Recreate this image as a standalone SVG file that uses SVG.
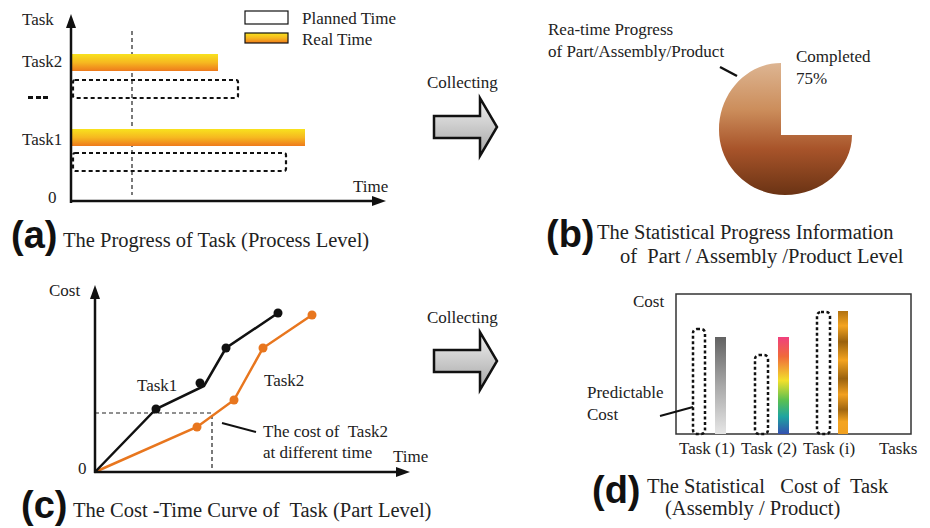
<svg xmlns="http://www.w3.org/2000/svg" width="930" height="528" viewBox="0 0 930 528">
<defs>
<style>
text{font-family:'Liberation Serif','Tinos','Times New Roman','DejaVu Serif',serif;font-size:17px;fill:#222}
.cap{font-size:20.5px}
.lab{font-family:'Liberation Sans',Arimo,Arial,'DejaVu Sans',sans-serif;font-weight:bold;font-size:38px;fill:#111}
.axis{stroke:#111;stroke-width:2.5;fill:none}
.dash{fill:none;stroke:#111;stroke-width:2.2;stroke-dasharray:4 3}
.dashd{fill:none;stroke:#111;stroke-width:2.5;stroke-dasharray:3 2.5}
.thin{stroke:#222;stroke-width:1.2;stroke-dasharray:4 3;fill:none}
.bk{stroke:#111;stroke-width:2.5;fill:none}
.or{stroke:#e8761e;stroke-width:2.5;fill:none}
.big{fill:url(#gray);stroke:#111;stroke-width:2.5;stroke-linejoin:miter}
</style>
<marker id="ah" markerUnits="userSpaceOnUse" markerWidth="14" markerHeight="10" refX="2" refY="5" orient="auto"><path d="M0,0 L14,5 L0,10 z" fill="#111"/></marker>
<linearGradient id="yo" x1="0" y1="0" x2="0" y2="1"><stop offset="0" stop-color="#f8e21e"/><stop offset="0.5" stop-color="#f6b820"/><stop offset="1" stop-color="#ee7a1c"/></linearGradient>
<linearGradient id="gray" x1="0" y1="0" x2="0" y2="1"><stop offset="0" stop-color="#f2f2f2"/><stop offset="1" stop-color="#a4a4a4"/></linearGradient>
<linearGradient id="pie" x1="0" y1="0" x2="0" y2="1"><stop offset="0" stop-color="#ddb592"/><stop offset="0.35" stop-color="#cc8e5c"/><stop offset="0.65" stop-color="#a8542a"/><stop offset="1" stop-color="#6a3314"/></linearGradient>
<linearGradient id="g1" x1="0" y1="0" x2="0" y2="1"><stop offset="0" stop-color="#626262"/><stop offset="0.5" stop-color="#a8a8a8"/><stop offset="1" stop-color="#e6e6e6"/></linearGradient>
<linearGradient id="g2" x1="0" y1="0" x2="0" y2="1"><stop offset="0" stop-color="#f0407e"/><stop offset="0.2" stop-color="#f06a3a"/><stop offset="0.45" stop-color="#f2e02c"/><stop offset="0.65" stop-color="#5cc050"/><stop offset="0.82" stop-color="#1ea4a0"/><stop offset="1" stop-color="#3450b0"/></linearGradient>
<linearGradient id="g3" x1="0" y1="0" x2="0" y2="1"><stop offset="0" stop-color="#b07212"/><stop offset="0.12" stop-color="#f4a420"/><stop offset="0.25" stop-color="#9a620e"/><stop offset="0.4" stop-color="#f4a420"/><stop offset="0.55" stop-color="#9a620e"/><stop offset="0.68" stop-color="#f2a020"/><stop offset="0.8" stop-color="#a06610"/><stop offset="0.9" stop-color="#f4a420"/><stop offset="1" stop-color="#f0a020"/></linearGradient>
</defs>
<rect width="930" height="528" fill="#fff"/>

<g id="panel-a">
<g id="a-legend">
<rect x="245" y="11" width="43" height="13" fill="#fff" stroke="#111" stroke-width="1.2"/>
<text x="302" y="24">Planned Time</text>
<rect x="245" y="33" width="43" height="10" fill="url(#yo)" stroke="#111" stroke-width="1.2"/>
<text x="302" y="45">Real Time</text>
</g>
<text x="22" y="25">Task</text>
<text x="22" y="67">Task2</text>
<text x="22" y="145">Task1</text>
<text x="48" y="203">0</text>
<text x="353" y="192">Time</text>
<g fill="#111"><rect x="28" y="96" width="5" height="3"/><rect x="36" y="96" width="5" height="3"/><rect x="43" y="96" width="5" height="3"/></g>
<line class="thin" x1="132" y1="31" x2="132" y2="195"/>
<g id="task2-bars">
<rect x="71" y="54" width="147" height="17" fill="url(#yo)"/>
<rect class="dash" x="73" y="80" width="165" height="18" rx="2"/>
</g>
<g id="task1-bars">
<rect x="71" y="129" width="234" height="17" fill="url(#yo)"/>
<rect class="dash" x="73" y="153" width="213" height="18" rx="2"/>
</g>
<text class="lab" x="11" y="248">(a)</text>
<text class="cap" x="63" y="247">The Progress of Task (Process Level)</text>
</g>

<g id="panel-b">
<text x="548" y="35">Rea-time Progress</text>
<text x="548" y="57">of Part/Assembly/Product</text>
<line x1="720" y1="67" x2="737" y2="76" stroke="#111" stroke-width="2.5"/>
<text x="796" y="62">Completed</text>
<text x="796" y="84">75%</text>
<path id="pie-chart" d="M781,135 L852,135 C852,168 822,195 785,195 C749,195 719,166 719,130 C719,93 747,63 781,63 Z" fill="url(#pie)"/>
<text class="lab" x="546" y="247">(b)</text>
<text class="cap" x="597" y="239">The Statistical Progress Information</text>
<text class="cap" x="620" y="263" xml:space="preserve">of  Part / Assembly /Product Level</text>
</g>

<g id="panel-c">
<text x="49" y="296">Cost</text>
<text x="78" y="474">0</text>
<text x="393" y="462">Time</text>
<path class="thin" d="M95,413 H212 V472"/>
<polyline class="or" points="95,472 197,427 234,400 263,348 312,315"/>
<polyline class="bk" points="95,472 156,409 204,386 226,348 278,313"/>
<g fill="#e8761e"><circle cx="197" cy="427" r="4.5"/><circle cx="234" cy="400" r="4.5"/><circle cx="263" cy="348" r="4.5"/><circle cx="312" cy="315" r="4.5"/></g>
<g fill="#111"><circle cx="156" cy="409" r="4.5"/><circle cx="200" cy="383" r="4.5"/><circle cx="226" cy="348" r="4.5"/><circle cx="278" cy="313" r="4.5"/></g>
<text x="137" y="391">Task1</text>
<text x="264" y="386">Task2</text>
<line x1="222" y1="423" x2="256" y2="432" stroke="#111" stroke-width="2"/>
<text x="263" y="437" xml:space="preserve">The cost of  Task2</text>
<text x="263" y="458">at different time</text>
<text class="lab" x="21" y="518">(c)</text>
<text class="cap" x="73" y="517" xml:space="preserve">The Cost -Time Curve of  Task (Part Level)</text>
</g>

<g id="panel-d">
<rect x="676" y="294" width="235" height="140" fill="none" stroke="#333" stroke-width="1.5"/>
<text x="633" y="307">Cost</text>
<rect class="dashd" x="693" y="329" width="12" height="105" rx="4"/>
<rect x="715" y="337" width="11" height="97" fill="url(#g1)"/>
<rect class="dashd" x="755" y="355" width="13" height="79" rx="4"/>
<rect x="778" y="337" width="11" height="97" fill="url(#g2)"/>
<rect class="dashd" x="817" y="312" width="13" height="122" rx="4"/>
<rect x="838" y="311" width="10" height="123" fill="url(#g3)"/>
<text x="587" y="398">Predictable</text>
<text x="587" y="420">Cost</text>
<line x1="660" y1="416" x2="693" y2="407" stroke="#111" stroke-width="2"/>
<text x="679" y="454">Task (1)</text>
<text x="741" y="454">Task (2)</text>
<text x="803" y="454">Task (i)</text>
<text x="879" y="454">Tasks</text>
<text class="lab" x="592" y="503">(d)</text>
<text class="cap" x="647" y="493" xml:space="preserve">The Statistical   Cost of  Task</text>
<text class="cap" x="665" y="515">(Assembly / Product)</text>
</g>

<g id="collect-top">
<text x="427" y="88">Collecting</text>
<path class="big" d="M434,116 H480 V98 L497,127 L480,156 V138 H434 Z"/>
</g>
<g id="collect-bottom">
<text x="427" y="323">Collecting</text>
<path class="big" d="M434,350 H480 V332 L497,361 L480,390 V372 H434 Z"/>
</g>

<g id="connectors">
<line class="axis" x1="71" y1="203" x2="71" y2="26" marker-end="url(#ah)"/>
<line class="axis" x1="70" y1="201" x2="374" y2="201" marker-end="url(#ah)"/>
<line class="axis" x1="95" y1="473" x2="95" y2="297" marker-end="url(#ah)"/>
<line class="axis" x1="94" y1="472" x2="398" y2="472" marker-end="url(#ah)"/>
</g>
</svg>
